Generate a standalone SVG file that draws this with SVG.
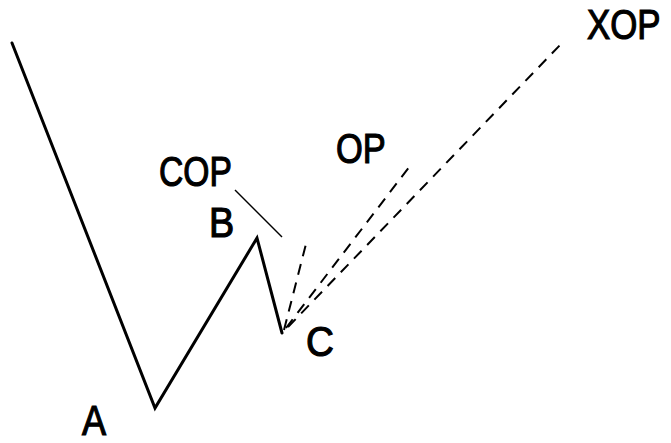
<svg xmlns="http://www.w3.org/2000/svg" width="671" height="443" viewBox="0 0 671 443">
<style>
.lbl{font-family:"Liberation Sans",Arial,sans-serif;font-size:42px;fill:#000;stroke:#000;stroke-width:1.2}
.wave{fill:none;stroke:#000;stroke-width:3;stroke-linejoin:miter;stroke-linecap:round}
.lead{fill:none;stroke:#000;stroke-width:1.5}
.dash{fill:none;stroke:#000;stroke-width:2;stroke-dasharray:11 8}
</style>
<rect width="671" height="443" fill="#fff"/>
<g id="connectors">
<polyline class="wave" points="12,43 155,408 257,238 282,333"/>
<line class="lead" x1="235" y1="190" x2="282" y2="237"/>
<line class="dash" x1="284" y1="330" x2="307" y2="240"/>
<line class="dash" x1="286" y1="328" x2="410" y2="166"/>
<line class="dash" x1="288" y1="327" x2="562" y2="43"/>
</g>
<g id="XOP"><text class="lbl" transform="translate(587,39) scale(0.83,1)">XOP</text></g>
<g id="OP"><text class="lbl" transform="translate(336,163) scale(0.82,1)">OP</text></g>
<g id="COP"><text class="lbl" transform="translate(159,186) scale(0.8,1)">COP</text></g>
<g id="B"><text class="lbl" transform="translate(209,237) scale(0.9,1)">B</text></g>
<g id="C"><text class="lbl" transform="translate(306,356) scale(0.92,1)">C</text></g>
<g id="A"><text class="lbl" transform="translate(82,435) scale(0.86,1)">A</text></g>
</svg>
